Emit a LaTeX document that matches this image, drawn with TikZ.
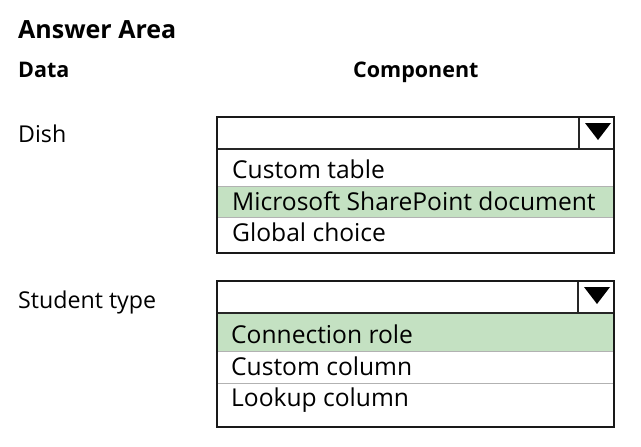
\documentclass[tikz,border=0pt]{standalone}
\usepackage{fontspec}
\setmainfont{Open Sans}
\begin{document}
\begin{tikzpicture}[x=1pt,y=-1pt,
  lbl/.style={anchor=base west,inner sep=0pt,font=\fontsize{23.2}{26}\selectfont},
  opt/.style={anchor=base west,inner sep=0pt,font=\fontsize{24.6}{28}\selectfont},
  hdr/.style={anchor=base west,inner sep=0pt,font=\bfseries\fontsize{21.5}{25}\selectfont},
  ttl/.style={anchor=base west,inner sep=0pt,font=\bfseries\fontsize{25}{29}\selectfont},
  frame/.style={draw=black!90,line width=1.6pt},
  sep/.style={draw=black!85,line width=1.1pt},
  thin/.style={draw=black!30,line width=0.8pt},
  hl/.style={fill=hlgreen}]
\definecolor{hlgreen}{HTML}{C4E1C2}
\useasboundingbox[fill=white] (0,0) rectangle (641,447);
\node[ttl] (title) at (18,38) {Answer Area};
\node[hdr] (hdata) at (18,77) {Data};
\node[hdr] (hcomp) at (353,77) {Component};
\node[lbl] (dish) at (18,142) {Dish};
\node[lbl] (stype) at (18,308) {Student type};
% box 1
\fill[hl] (217,186) rectangle (614,217);
\draw[thin] (217,186) -- (614,186);
\draw[thin] (217,217) -- (614,217);
\draw[sep] (217,149) -- (614,149);
\draw[sep] (579,117) -- (579,149);
\fill (585,123) -- (611,123) -- (598,140) -- cycle;
\draw[frame] (217,117) rectangle (614,253);
\node[opt] (o11) at (232,178) {Custom table};
\node[opt] (o12) at (232,210) {Microsoft SharePoint document};
\node[opt] (o13) at (232,241) {Global choice};
% box 2
\fill[hl] (217,313) rectangle (614,351);
\draw[thin] (217,351) -- (614,351);
\draw[thin] (217,383) -- (614,383);
\draw[sep] (217,313) -- (614,313);
\draw[sep] (578,281) -- (578,313);
\fill (584,287) -- (610,287) -- (597,304) -- cycle;
\draw[frame] (217,281) rectangle (614,427);
\node[opt] (o21) at (231,343) {Connection role};
\node[opt] (o22) at (231,375) {Custom column};
\node[opt] (o23) at (231,406) {Lookup column};
\end{tikzpicture}
\end{document}
